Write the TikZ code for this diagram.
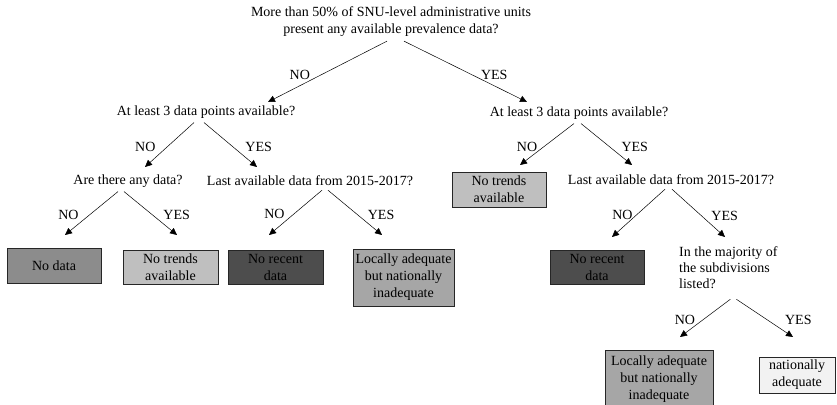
\documentclass[tikz,border=0pt]{standalone}
\usepackage{fontspec}
\setmainfont{Liberation Serif}
\usepackage{xcolor}
\usepackage{tikz}
\usetikzlibrary{arrows.meta, positioning}

\definecolor{nodata}{HTML}{8C8C8C}
\definecolor{notrend}{HTML}{BFBFBF}
\definecolor{norecent}{HTML}{4D4D4D}
\definecolor{locally}{HTML}{A6A6A6}
\definecolor{national}{HTML}{F2F2F2}

\begin{document}
\begin{tikzpicture}[x=1pt, y=-1pt,
		font=\fontsize{14}{17}\selectfont,
		ask/.style={inner sep=4pt, align=center},
		box/.style={draw=black!85, line width=0.9pt, align=center, inner sep=2pt, minimum height=34},
		arr/.style={line width=0.5pt, -{Triangle[length=7pt, width=6.5pt]}}]
			\useasboundingbox (0,0) rectangle (837,404);

			% questions
			\node[ask] (q0) at (391,22) {More than 50\% of SNU-level administrative units\\present any available prevalence data?};
			\node[ask] (qL) at (206,112) {At least 3 data points available?};
			\node[ask] (qR) at (579,113) {At least 3 data points available?};
			\node[ask] (qLL) at (128,181) {Are there any data?};
			\node[ask] (qLR) at (310,181) {Last available data from 2015-2017?};
			\node[ask] (qRR) at (671,180) {Last available data from 2015-2017?};
			\node[ask, align=left, anchor=west, inner sep=0pt, font=\fontsize{14}{16}\selectfont] (qM) at (679,268) {In the majority of\\the subdivisions\\listed?};

			% outcomes
			\node[box, fill=nodata, minimum width=94, minimum height=35] (bNoData) at (54,265.5) {No data};
			\node[box, fill=notrend, minimum width=95] (bTrendL) at (170.5,267) {No trends\\available};
			\node[box, fill=norecent, minimum width=95] (bRecentL) at (275.5,267) {No recent\\data};
			\node[box, fill=locally, minimum width=101, minimum height=57] (bLocalL) at (403.5,277.5) {Locally adequate\\but nationally\\inadequate};
			\node[box, fill=notrend, minimum width=94, minimum height=35] (bTrendR) at (499,189.5) {No trends\\available};
			\node[box, fill=norecent, minimum width=94] (bRecentR) at (597,267) {No recent\\data};
			\node[box, fill=locally, minimum width=108, minimum height=57] (bLocalR) at (659,379) {Locally adequate\\but nationally\\inadequate};
			\node[box, fill=national, minimum width=76, minimum height=36] (bNatAdq) at (797,375) {nationally\\adequate};

			% arrow tips
			\coordinate (t0n) at (268,102);
			\coordinate (t0y) at (527,102);
			\coordinate (tLn) at (145,167);
			\coordinate (tLy) at (257,167);
			\coordinate (tRn) at (520,165);
			\coordinate (tRy) at (632,165);
			\coordinate (tLLn) at (65,235);
			\coordinate (tLLy) at (177,235);
			\coordinate (tLRn) at (269,235);
			\coordinate (tLRy) at (382,235);
			\coordinate (tRRn) at (612,237);
			\coordinate (tRRy) at (725,237);
			\coordinate (tMn) at (680,337);
			\coordinate (tMy) at (793,337);

			\begin{scope}[arr]
				\draw ([xshift=-4]q0.south) -- (t0n) node [pos=0.75, above=4pt, xshift=2pt] {NO};
				\draw ([xshift=13]q0.south) -- (t0y) node [pos=0.75, above=4pt, xshift=-2pt] {YES};

				\draw ([xshift=-12]qL.south) -- (tLn) node [pos=0.45, left=13pt, yshift=-4pt] {NO};
				\draw ([xshift=-2]qL.south) -- (tLy) node [pos=0.45, right=14pt, yshift=-4pt] {YES};

				\draw ([xshift=-5]qR.south) -- (tRn) node [pos=0.45, left=9pt, yshift=-5pt] {NO};
				\draw ([xshift=2]qR.south) -- (tRy) node [pos=0.45, right=14pt, yshift=-5pt] {YES};

				\draw ([xshift=-10]qLL.south) -- (tLLn) node [pos=0.45, left=12pt, yshift=-4pt] {NO};
				\draw ([xshift=-4]qLL.south) -- (tLLy) node [pos=0.45, right=12pt, yshift=-4pt] {YES};

				\draw ([xshift=12]qLR.south) -- (tLRn) node [pos=0.45, left=10pt, yshift=-4pt] {NO};
				\draw ([xshift=18]qLR.south) -- (tLRy) node [pos=0.45, right=12pt, yshift=-5pt] {YES};

				\draw ([xshift=-6]qRR.south) -- (tRRn) node [pos=0.45, left=5pt, yshift=-4pt] {NO};
				\draw ([xshift=1]qRR.south) -- (tRRy) node [pos=0.45, right=12pt, yshift=-5pt] {YES};

				\draw ([xshift=2,yshift=-10]qM.south) -- (tMn) node [pos=0.55, left=4pt] {NO};
				\draw ([xshift=8,yshift=-10]qM.south) -- (tMy) node [pos=0.55, right=14pt] {YES};
			\end{scope}
		\end{tikzpicture}
\end{document}
